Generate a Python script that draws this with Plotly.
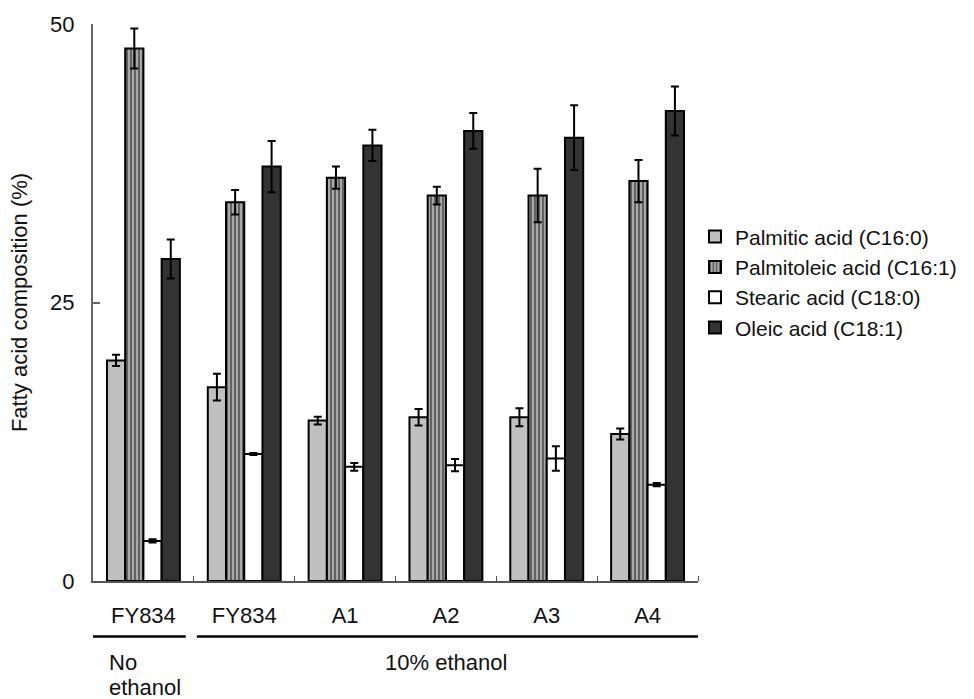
import plotly.graph_objects as go

# ---------------- data ----------------
categories = ["FY834", "FY834", "A1", "A2", "A3", "A4"]
series_names = ["Palmitic acid (C16:0)", "Palmitoleic acid (C16:1)",
                "Stearic acid (C18:0)", "Oleic acid (C18:1)"]
palmitic = [19.8, 17.4, 14.4, 14.7, 14.7, 13.2]
palmitic_err = [0.5, 1.2, 0.35, 0.75, 0.8, 0.5]
palmitoleic = [47.8, 34.0, 36.2, 34.6, 34.6, 35.9]
palmitoleic_err = [1.8, 1.1, 1.0, 0.8, 2.4, 1.9]
stearic = [3.6, 11.4, 10.25, 10.4, 11.0, 8.65]
stearic_err = [0.15, 0.1, 0.35, 0.55, 1.1, 0.15]
oleic = [28.9, 37.2, 39.1, 40.4, 39.8, 42.2]
oleic_err = [1.75, 2.3, 1.4, 1.6, 2.9, 2.2]
y_ticks = [0, 25, 50]
condition_groups = [(["No", "ethanol"], 0, 0), (["10% ethanol"], 1, 5)]
y_title = "Fatty acid composition (%)"

# ---------------- figure ----------------
FONT = "Liberation Sans, Arial, sans-serif"
FS = 22
x = list(range(len(categories)))

styles = [
    dict(color="#c0c0c0"),
    dict(color="#9a9a9a", pattern=dict(shape="|", size=4, solidity=0.45,
                                       fgcolor="#5a5a5a", bgcolor="#a8a8a8",
                                       fillmode="replace")),
    dict(color="#ffffff"),
    dict(color="#333333"),
]
values = [palmitic, palmitoleic, stearic, oleic]
errors = [palmitic_err, palmitoleic_err, stearic_err, oleic_err]

fig = go.Figure()
for name, vals, errs, st in zip(series_names, values, errors, styles):
    marker = dict(line=dict(color="#000000", width=2), **st)
    fig.add_trace(go.Bar(
        x=x, y=vals, name=name, marker=marker,
        error_y=dict(type="data", array=errs, visible=True,
                     color="#000000", thickness=2, width=4),
    ))

# group underline shapes and labels
shapes = []
annotations = []
line_y = -0.0996
for k, (lines, i0, i1) in enumerate(condition_groups):
    x0 = i0 - 0.51 if k == 0 else i0 - 0.47
    x1 = i1 + 0.42 if k == 0 else i1 + 0.51
    shapes.append(dict(type="line", xref="x", yref="paper",
                       x0=x0, x1=x1, y0=line_y, y1=line_y,
                       line=dict(color="#000000", width=2.6)))
    for j, txt in enumerate(lines):
        yy = -0.146 - j * 0.0453
        if i0 == i1:
            annotations.append(dict(xref="x", yref="paper", x=i0 - 0.365, y=yy,
                                    xanchor="left", yanchor="middle",
                                    text=txt, showarrow=False,
                                    font=dict(family=FONT, size=FS, color="#111111")))
        else:
            annotations.append(dict(xref="x", yref="paper", x=(i0 + i1) / 2, y=yy,
                                    xanchor="center", yanchor="middle",
                                    text=txt, showarrow=False,
                                    font=dict(family=FONT, size=FS, color="#111111")))

fig.update_layout(
    width=974, height=699,
    margin=dict(l=93, r=275, t=22, b=118),
    paper_bgcolor="white", plot_bgcolor="white",
    barmode="group", bargap=0.277, bargroupgap=0,
    font=dict(family=FONT, size=FS, color="#111111"),
    showlegend=True,
    legend=dict(x=0.995, xanchor="left", y=0.536, yanchor="middle",
                font=dict(family=FONT, size=21, color="#111111"),
                traceorder="normal", bgcolor="rgba(0,0,0,0)",
                itemwidth=30, borderwidth=0),
    shapes=shapes, annotations=annotations,
)
fig.update_xaxes(
    range=[-0.5, len(categories) - 0.5],
    tickmode="array", tickvals=x, ticktext=categories,
    ticks="", showgrid=False, zeroline=False,
    showline=True, linecolor="#555555", linewidth=1.5,
    tickfont=dict(family=FONT, size=FS, color="#111111"),
    ticklabelstandoff=14,
    minor=dict(tickmode="array", tickvals=[i + 0.5 for i in x[:-1]] + [len(categories) - 0.5],
               ticks="inside", ticklen=5, tickwidth=1.2, tickcolor="#555555", showgrid=False),
)
fig.update_yaxes(
    range=[0, 50], tickmode="array", tickvals=y_ticks,
    ticks="inside", ticklen=7, tickwidth=1.5, tickcolor="#666666",
    showgrid=False, zeroline=False,
    showline=True, linecolor="#666666", linewidth=2,
    tickfont=dict(family=FONT, size=FS, color="#111111"),
    ticklabelstandoff=12,
    title=dict(text=y_title, font=dict(family=FONT, size=FS, color="#111111"), standoff=16),
)

fig.write_html("out.html")
